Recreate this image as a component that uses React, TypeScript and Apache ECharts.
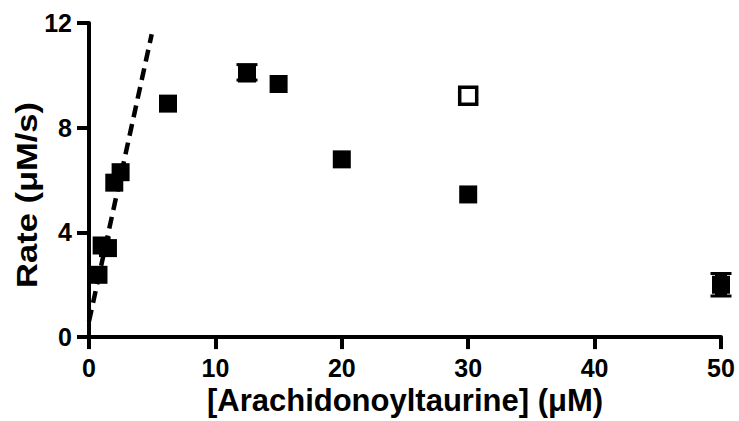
import React, { useEffect, useRef } from "react";
import * as echarts from "echarts";

// Filled squares: substrate concentration (µM) and rate (µM/s)
const concX: number[] = [0.75, 1.0, 1.5, 2.0, 2.5, 6.25, 12.5, 15, 20, 30, 50];
const rateY: number[] = [2.38, 3.5, 3.4, 5.9, 6.3, 8.92, 10.07, 9.67, 6.79, 5.45, 2.0];
// Error bars (only those that show beyond the markers)
const errUp: number[] = [0, 0, 0, 0, 0, 0, 0.34, 0, 0, 0, 0.43];
const errDown: number[] = [0, 0, 0, 0, 0, 0, 0.25, 0, 0, 0, 0.43];

// Open square
const openX: number[] = [30];
const openY: number[] = [9.22];

// Dashed initial-slope line
const lineX: number[] = [0, 4.96];
const lineY: number[] = [0.6, 11.57];

const xTicks = { min: 0, max: 50, interval: 10 };
const yTicks = { min: 0, max: 12, interval: 4 };

const FONT = '"Liberation Sans", Arial, Helvetica, sans-serif';

export default function App() {
  const ref = useRef<HTMLDivElement>(null);
  useEffect(() => {
    if (!ref.current) return;
    const chart = echarts.init(ref.current, undefined, { renderer: "svg" });
    const filled = concX.map((x, i) => [x, rateY[i]]);
    const open = openX.map((x, i) => [x, openY[i]]);
    const dashed = lineX.map((x, i) => [x, lineY[i]]);
    const errData = concX
      .map((x, i) => [x, rateY[i] - errDown[i], rateY[i] + errUp[i]])
      .filter((d, i) => errUp[i] > 0 || errDown[i] > 0);
    chart.setOption({
      animation: false,
      backgroundColor: "#ffffff",
      grid: { left: 89, right: 18, top: 23, bottom: 81, containLabel: false },
      xAxis: {
        type: "value",
        min: xTicks.min,
        max: xTicks.max,
        interval: xTicks.interval,
        name: "[Arachidonoyltaurine] (μM)",
        nameLocation: "middle",
        nameGap: 43,
        nameTextStyle: { color: "#000", fontFamily: FONT, fontWeight: "bold", fontSize: 31 },
        axisLine: { onZero: false, lineStyle: { color: "#000", width: 4 } },
        axisTick: { length: 12, lineStyle: { color: "#000", width: 4 } },
        axisLabel: { color: "#000", fontFamily: FONT, fontWeight: "bold", fontSize: 25, margin: 18 },
        splitLine: { show: false },
      },
      yAxis: {
        type: "value",
        min: yTicks.min,
        max: yTicks.max,
        interval: yTicks.interval,
        axisLine: { show: true, onZero: false, lineStyle: { color: "#000", width: 4 } },
        axisTick: { show: true, length: 12, lineStyle: { color: "#000", width: 4 } },
        axisLabel: { color: "#000", fontFamily: FONT, fontWeight: "bold", fontSize: 25, margin: 17 },
        splitLine: { show: false },
      },
      graphic: [
        {
          type: "text",
          x: 27,
          y: 195,
          rotation: Math.PI / 2,
          scaleX: 1.15,
          style: {
            text: "Rate (μM/s)",
            font: `bold 30px ${FONT}`,
            fill: "#000",
            textAlign: "center",
            textVerticalAlign: "middle",
          },
        },
      ],
      series: [
        {
          type: "line",
          data: dashed,
          symbol: "none",
          clip: false,
          lineStyle: { color: "#000", width: 4.5, type: [12, 7] },
          z: 1,
        },
        {
          type: "custom",
          data: errData,
          clip: false,
          encode: { x: 0, y: [1, 2] },
          z: 2,
          renderItem: (params: any, api: any) => {
            const x = api.value(0);
            const p1 = api.coord([x, api.value(1)]);
            const p2 = api.coord([x, api.value(2)]);
            const w = 10.5;
            const st = { stroke: "#000", lineWidth: 3 };
            return {
              type: "group",
              children: [
                { type: "line", shape: { x1: p1[0], y1: p1[1], x2: p2[0], y2: p2[1] }, style: { stroke: "#000", lineWidth: 12 } },
                { type: "line", shape: { x1: p1[0] - w, y1: p1[1], x2: p1[0] + w, y2: p1[1] }, style: st },
                { type: "line", shape: { x1: p2[0] - w, y1: p2[1], x2: p2[0] + w, y2: p2[1] }, style: st },
              ],
            };
          },
        },
        {
          type: "scatter",
          data: filled,
          symbol: "rect",
          symbolSize: 18,
          clip: false,
          itemStyle: { color: "#000", opacity: 1 },
          z: 3,
        },
        {
          type: "scatter",
          data: open,
          symbol: "rect",
          symbolSize: 17,
          clip: false,
          itemStyle: { color: "#fff", borderColor: "#000", borderWidth: 3.5, opacity: 1 },
          z: 3,
        },
      ],
    });
    return () => chart.dispose();
  }, []);
  return (
    <div
      ref={ref}
      style={{ position: "absolute", left: 0, top: 0, width: 739, height: 421 }}
    />
  );
}
